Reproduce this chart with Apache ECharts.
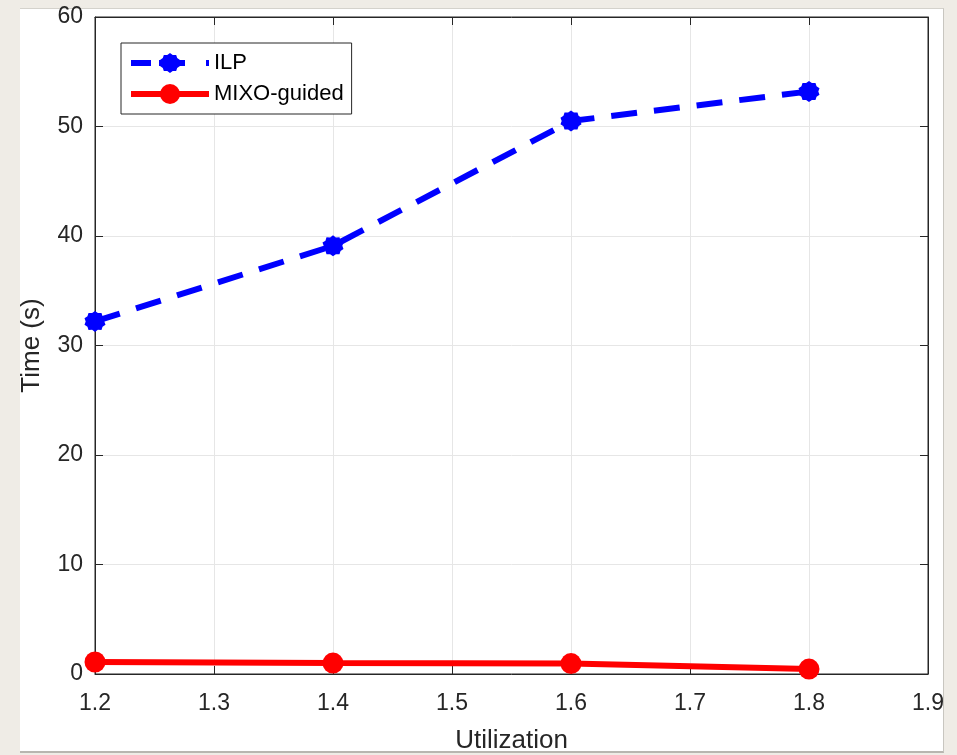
<!DOCTYPE html>
<html>
<head>
<meta charset="utf-8">
<script src="https://cdn.jsdelivr.net/npm/echarts@6/dist/echarts.min.js"></script>
<style>
  html, body { margin: 0; padding: 0; background: #efece6; }
  #fig { position: absolute; left: 20px; top: 8px; width: 923px; height: 742px;
         background: #fff; border-top: 1px solid #d4d2cc; border-right: 1px solid #c8c6c0;
         border-bottom: 2px solid #b8b6b0; }
  #main { position: absolute; left: 0; top: 0; width: 944px; height: 750px; }
</style>
</head>
<body>
<div id="fig"></div>
<div id="main"></div>
<script>
// 数据
var utilization = [1.2, 1.4, 1.6, 1.8];
var ilpTime = [32.2, 39.1, 50.5, 53.2];
var mixoTime = [1.1, 1.0, 0.95, 0.45];
var xTicks = [1.2, 1.3, 1.4, 1.5, 1.6, 1.7, 1.8, 1.9];
var yTicks = [0, 10, 20, 30, 40, 50, 60];

// MATLAB 风格的星号标记
function starPath(n, r1, r2) {
    var d = '';
    for (var i = 0; i < n * 2; i++) {
        var r = i % 2 ? r2 : r1;
        var a = Math.PI * i / n;
        d += (i ? 'L' : 'M') + (r * Math.sin(a)).toFixed(2) + ',' + (-r * Math.cos(a)).toFixed(2);
    }
    return 'path://' + d + 'Z';
}

var myChart = echarts.init(document.getElementById('main'));
var font = 'Liberation Sans, Arial, sans-serif';
var ink = '#262626';
var ilpDash = [26, 17];
var ilpSymbol = starPath(10, 9, 7.6);

var option = {
    animation: false,
    grid: {
        left: 95, top: 17, right: 16, bottom: 76,
        outerBoundsMode: 'none',
        containLabel: false,
        show: true, borderColor: ink, borderWidth: 1
    },
    legend: {
        left: 121, top: 43,
        orient: 'vertical',
        padding: [9, 8, 9, 7],
        itemWidth: 78, itemHeight: 25, itemGap: 9,
        backgroundColor: '#fff',
        borderColor: ink, borderWidth: 1,
        textStyle: { fontFamily: font, fontSize: 22, color: '#000' },
        data: [
            { name: 'ILP', lineStyle: { width: 6, type: [20, 8, 26, 21], color: '#0000ff' } },
            { name: 'MIXO-guided', lineStyle: { width: 6, color: '#ff0000' } }
        ]
    },
    xAxis: [{
        type: 'value',
        min: xTicks[0], max: xTicks[xTicks.length - 1], interval: 0.1,
        name: 'Utilization', nameLocation: 'middle', nameGap: 54,
        nameTextStyle: { fontFamily: font, fontSize: 26, color: ink },
        axisLine: { show: true, onZero: false, lineStyle: { color: ink } },
        axisTick: { show: true, inside: true, length: 8, lineStyle: { color: ink } },
        axisLabel: { margin: 18, fontFamily: font, fontSize: 23, color: ink,
                     formatter: function (v) { return v.toFixed(1); } },
        splitLine: { show: true, lineStyle: { color: '#e6e6e6' } }
    }, {
        type: 'value', position: 'top',
        min: xTicks[0], max: xTicks[xTicks.length - 1], interval: 0.1,
        axisLine: { show: true, onZero: false, lineStyle: { color: ink } },
        axisTick: { show: true, inside: true, length: 8, lineStyle: { color: ink } },
        axisLabel: { show: false }, splitLine: { show: false }
    }],
    yAxis: [{
        type: 'value',
        min: yTicks[0], max: yTicks[yTicks.length - 1], interval: 10,
        name: 'Time (s)', nameLocation: 'middle', nameGap: 50,
        nameTextStyle: { fontFamily: font, fontSize: 26, color: ink },
        axisLine: { show: true, lineStyle: { color: ink } },
        axisTick: { show: true, inside: true, length: 8, lineStyle: { color: ink } },
        axisLabel: { margin: 12, fontFamily: font, fontSize: 23, color: ink },
        splitLine: { show: true, lineStyle: { color: '#e6e6e6' } }
    }, {
        type: 'value', position: 'right',
        min: yTicks[0], max: yTicks[yTicks.length - 1], interval: 10,
        axisLine: { show: true, lineStyle: { color: ink } },
        axisTick: { show: true, inside: true, length: 8, lineStyle: { color: ink } },
        axisLabel: { show: false }, splitLine: { show: false }
    }],
    series: [{
        name: 'ILP',
        type: 'line',
        data: utilization.map(function (u, i) { return [u, ilpTime[i]]; }),
        symbol: ilpSymbol,
        symbolSize: 21,
        color: '#0000ff',
        itemStyle: { color: '#0000ff' },
        lineStyle: { color: '#0000ff', width: 6, type: ilpDash },
        z: 3
    }, {
        name: 'MIXO-guided',
        type: 'line',
        data: utilization.map(function (u, i) { return [u, mixoTime[i]]; }),
        symbol: 'circle',
        symbolSize: 21,
        color: '#ff0000',
        itemStyle: { color: '#ff0000' },
        lineStyle: { color: '#ff0000', width: 6 },
        clip: false,
        z: 3
    }]
};

myChart.setOption(option);
</script>
</body>
</html>
